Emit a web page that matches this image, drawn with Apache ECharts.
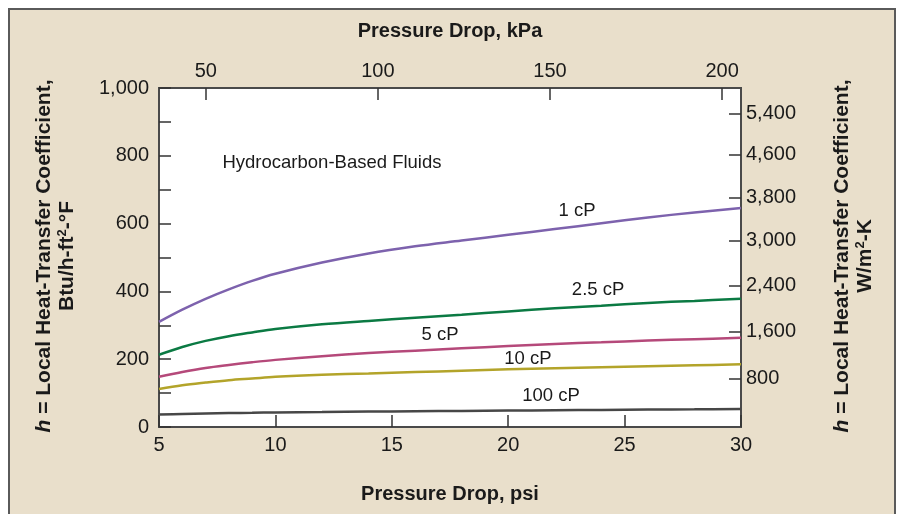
<!DOCTYPE html>
<html>
<head>
<meta charset="utf-8">
<script src="https://cdn.jsdelivr.net/npm/echarts@6/dist/echarts.min.js"></script>
<style>
  html, body { margin: 0; padding: 0; background: #fff; }
  #frame {
    position: absolute; left: 8px; top: 8px; width: 888px; height: 530px;
    box-sizing: border-box; background: #e9dfcb; border: 2px solid #5a5a5a;
  }
  #chart { position: absolute; left: 0; top: 0; width: 899px; height: 514px; }
</style>
</head>
<body>
<div id="frame"></div>
<div id="chart"></div>
<script>
// pressure drop, psi (bottom axis)
const PSI = [5, 6, 7, 8, 9, 10, 12, 14, 16, 18, 20, 22, 24, 26, 28, 30];

// h, Btu/h-ft2-F
const CP_1   = [310, 346, 378, 406, 431, 452, 485, 512, 533, 550, 567, 584, 601, 618, 633, 646];
const CP_2_5 = [213, 236, 254, 268, 279, 289, 303, 313, 322, 331, 341, 350, 358, 366, 372, 378];
const CP_5   = [148, 162, 174, 183, 191, 198, 209, 218, 225, 232, 239, 245, 250, 255, 259, 263];
const CP_10  = [112, 123, 131, 138, 143, 148, 154, 158, 162, 166, 170, 173, 176, 179, 182, 185];
const CP_100 = [37, 38.5, 40, 41, 42, 43, 44, 45.5, 46.5, 47.5, 48.5, 49.5, 50.5, 51.5, 52, 53];

// top axis (kPa) ticks
const KPA_TICKS = [50, 100, 150, 200];
// left axis labels
const BTU_LABELS = [0, 200, 400, 600, 800, 1000];
// right axis: W/m2-K labels and where they sit on the Btu scale in the figure
const W_LABELS = ["800", "1,600", "2,400", "3,000", "3,800", "4,600", "5,400"];
const W_AT_BTU = [142.5, 281, 417, 550.5, 677.5, 804.5, 925.5];

// in-plot notes (psi, Btu)
const NOTE_TEXT = ["Hydrocarbon-Based Fluids", "1 cP", "2.5 cP", "5 cP", "10 cP", "100 cP"];
const NOTE_X = [12.43, 22.96, 23.86, 17.07, 20.85, 21.84];
const NOTE_Y = [779, 637, 404, 271, 200, 92];

const FONT = "'Liberation Sans', Arial, sans-serif";
const INK = "#1a1a1a";
const AXIS = "#4a4a4a";
const Y_MAX = 1000;
const TOP_TICK = 35.4; // 12px of the 0-1000 scale

function withComma(v) {
  return String(v).replace(/\B(?=(\d{3})+(?!\d))/g, ",");
}

// psi axis is xAxisIndex 1 (bottom), kPa axis is xAxisIndex 0 (top)
function curve(name, ys, color) {
  return {
    name: name,
    type: "line",
    xAxisIndex: 1,
    data: PSI.map((x, i) => [x, ys[i]]),
    smooth: 0.35,
    showSymbol: false,
    lineStyle: { color: color, width: 2.5 },
    silent: true,
  };
}

const tickStyle = { color: "#333", width: 1.5 };
const labelStyle = { fontSize: 20, color: INK, fontFamily: FONT };
const titleStyle = { fontSize: 20, fontWeight: "bold", color: INK, fontFamily: FONT };
const richTitle = {
  i: { fontStyle: "italic", fontWeight: "bold", fontSize: 21, fontFamily: FONT, lineHeight: 23 },
  s: { fontWeight: "bold", fontSize: 13, fontFamily: FONT, lineHeight: 14, verticalAlign: "top" },
};

const chart = echarts.init(document.getElementById("chart"));
chart.setOption({
  animation: false,
  backgroundColor: "transparent",
  grid: {
    left: 159, right: 158, top: 88, bottom: 87,
    show: true, backgroundColor: "#fff", borderColor: AXIS, borderWidth: 2,
  },
  xAxis: [
    {
      type: "value", position: "top", min: 36.4, max: 205.5,
      axisLine: { show: true, lineStyle: { color: AXIS, width: 2 } },
      axisTick: { show: false },
      axisLabel: Object.assign({ margin: 7, customValues: KPA_TICKS }, labelStyle),
      splitLine: { show: false },
      name: "Pressure Drop, kPa", nameLocation: "middle", nameGap: 47,
      nameTextStyle: titleStyle,
    },
    {
      type: "value", position: "bottom", min: 5, max: 30, interval: 5,
      axisLine: { show: true, lineStyle: { color: AXIS, width: 2 } },
      axisTick: { show: true, inside: true, length: 12, lineStyle: tickStyle },
      axisLabel: Object.assign({ margin: 8 }, labelStyle),
      splitLine: { show: false },
      name: "Pressure Drop, psi", nameLocation: "middle", nameGap: 57,
      nameTextStyle: titleStyle,
    },
  ],
  yAxis: [
    {
      type: "value", position: "left", min: 0, max: Y_MAX, interval: 100,
      axisLine: { show: true, lineStyle: { color: AXIS, width: 2 } },
      axisTick: { show: true, inside: true, length: 12, lineStyle: tickStyle },
      axisLabel: Object.assign({ margin: 10, customValues: BTU_LABELS, formatter: withComma }, labelStyle),
      splitLine: { show: false },
    },
    {
      type: "value", position: "right", min: 0, max: Y_MAX,
      axisLine: { show: true, lineStyle: { color: AXIS, width: 2 } },
      axisTick: { show: true, inside: true, length: 12, lineStyle: tickStyle, customValues: W_AT_BTU },
      axisLabel: Object.assign({
        margin: 5, customValues: W_AT_BTU,
        formatter: function (v) {
          let best = 0;
          W_AT_BTU.forEach((p, i) => { if (Math.abs(p - v) < Math.abs(W_AT_BTU[best] - v)) best = i; });
          return W_LABELS[best];
        },
      }, labelStyle),
      splitLine: { show: false },
    },
  ],
  series: [
    curve("1 cP", CP_1, "#7d62ad"),
    curve("2.5 cP", CP_2_5, "#0b7a43"),
    curve("5 cP", CP_5, "#b5497a"),
    curve("10 cP", CP_10, "#b3a42a"),
    curve("100 cP", CP_100, "#474747"),
    {
      // kPa ticks hanging from the top axis
      type: "line", xAxisIndex: 0, data: [], silent: true,
      markLine: {
        silent: true, symbol: "none", animation: false,
        label: { show: false },
        lineStyle: { color: "#333", width: 1.5, type: "solid" },
        data: KPA_TICKS.map(k => [{ coord: [k, Y_MAX] }, { coord: [k, Y_MAX - TOP_TICK] }]),
      },
    },
  ],
  graphic: [
    {
      id: "ltitle", type: "text", x: 56, y: 256, rotation: Math.PI / 2,
      style: {
        text: "{i|h} = Local Heat-Transfer Coefficient,\nBtu/h-ft{s|2}-°F",
        align: "center", verticalAlign: "middle",
        font: "bold 21px " + FONT, fill: INK, lineHeight: 23, rich: richTitle,
      },
    },
    {
      id: "rtitle", type: "text", x: 854, y: 256, rotation: Math.PI / 2,
      style: {
        text: "{i|h} = Local Heat-Transfer Coefficient,\nW/m{s|2}-K",
        align: "center", verticalAlign: "middle",
        font: "bold 21px " + FONT, fill: INK, lineHeight: 23, rich: richTitle,
      },
    },
  ],
});

// place the notes through the psi / Btu scales
chart.setOption({
  graphic: NOTE_TEXT.map((t, i) => {
    const p = chart.convertToPixel({ xAxisIndex: 1, yAxisIndex: 0 }, [NOTE_X[i], NOTE_Y[i]]);
    return {
      id: "note" + i, type: "text", x: p[0], y: p[1], silent: true,
      style: {
        text: t, align: "center", verticalAlign: "middle",
        font: "18.5px " + FONT, fill: INK,
      },
    };
  }),
});
</script>
</body>
</html>
